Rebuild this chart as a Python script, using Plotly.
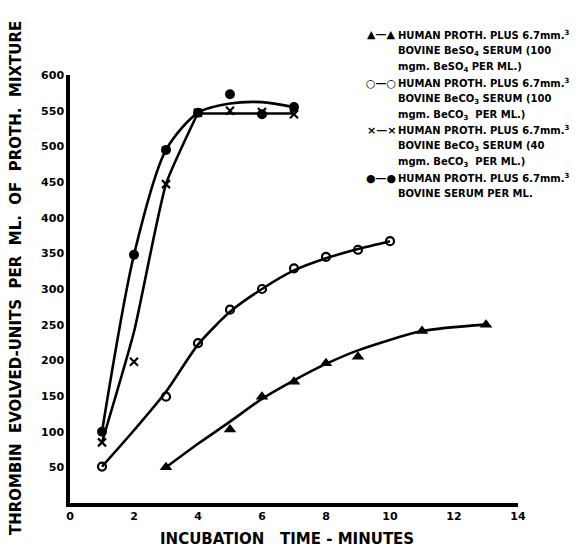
import plotly.graph_objects as go

# ---- data ----
# Triangles: human proth + 6.7 mm3 bovine BeSO4 serum (100 mgm BeSO4 per ml)
tri_x = [3, 5, 6, 7, 8, 9, 11, 13]
tri_y = [50, 103, 149, 170, 196, 205, 241, 250]
tri_curve_x = [3, 4, 5, 6, 7, 8, 9, 11, 13]
tri_curve_y = [50, 83, 114, 146, 172, 195, 214, 241, 250]

# Open circles: bovine BeCO3 serum (100 mgm BeCO3 per ml)
oc_x = [1, 3, 4, 5, 6, 7, 8, 9, 10]
oc_y = [51, 149, 224, 271, 300, 329, 345, 355, 367]
oc_curve_x = [1, 2, 3, 4, 5, 6, 7, 8, 9, 10]
oc_curve_y = [51, 102, 156, 222, 268, 300, 326, 343, 356, 367]

# X marks: bovine BeCO3 serum (40 mgm BeCO3 per ml)
xx_x = [1, 2, 3, 4, 5, 6, 7]
xx_y = [85, 198, 447, 547, 550, 548, 545]
xx_curve_x = [1, 2, 3, 4]
xx_curve_y = [85, 240, 447, 547]
xx_flat_x = [4, 7]
xx_flat_y = [546, 546]

# Filled circles: bovine serum per ml
fc_x = [1, 2, 3, 4, 5, 6, 7]
fc_y = [100, 348, 495, 547, 573, 545, 555]
fc_curve_x = [1, 2, 3, 4, 5, 6, 7]
fc_curve_y = [100, 348, 495, 547, 560, 562, 555]

x_ticks = [0, 2, 4, 6, 8, 10, 12, 14]
y_ticks = [50, 100, 150, 200, 250, 300, 350, 400, 450, 500, 550, 600]

legend_symbols = ["\u25b2\u2014\u25b2", "\u25cb\u2014\u25cb", "\u00d7\u2014\u00d7", "\u25cf\u2014\u25cf"]
legend_lines = [
    ["HUMAN PROTH. PLUS 6.7mm.<sup>3</sup>", "BOVINE BeSO<sub>4</sub> SERUM (100", "mgm. BeSO<sub>4</sub> PER ML.)"],
    ["HUMAN PROTH. PLUS 6.7mm.<sup>3</sup>", "BOVINE BeCO<sub>3</sub> SERUM (100", "mgm. BeCO<sub>3</sub>  PER ML.)"],
    ["HUMAN PROTH. PLUS 6.7mm.<sup>3</sup>", "BOVINE BeCO<sub>3</sub> SERUM (40", "mgm. BeCO<sub>3</sub>  PER ML.)"],
    ["HUMAN PROTH. PLUS 6.7mm.<sup>3</sup>", "BOVINE SERUM PER ML."],
]

NB = "\u00a0"
y_title = (NB * 2).join(["THROMBIN", "EVOLVED-UNITS", "PER", "ML.", "OF", "PROTH.", "MIXTURE"])
x_title = "INCUBATION" + NB * 3 + "TIME" + NB + "-" + NB + "MINUTES"

FONT = "DejaVu Sans"
LW = 2.6

fig = go.Figure()

def curve(x, y, shape="spline", sm=0.7):
    fig.add_trace(go.Scatter(x=x, y=y, mode="lines",
                             line=dict(color="black", width=LW, shape=shape, smoothing=sm),
                             hoverinfo="skip", showlegend=False))

curve(tri_curve_x, tri_curve_y)
curve(oc_curve_x, oc_curve_y)
curve(xx_curve_x, xx_curve_y, sm=0.5)
curve(xx_flat_x, xx_flat_y, shape="linear")
curve(fc_curve_x, fc_curve_y, sm=0.8)

fig.add_trace(go.Scatter(x=tri_x, y=tri_y, mode="markers", showlegend=False,
                         marker=dict(symbol="triangle-up", size=11, color="black")))
fig.add_trace(go.Scatter(x=oc_x, y=oc_y, mode="markers", showlegend=False,
                         marker=dict(symbol="circle-open", size=8, color="black",
                                     line=dict(width=2.2, color="black"))))
fig.add_trace(go.Scatter(x=xx_x, y=xx_y, mode="markers", showlegend=False,
                         marker=dict(symbol="x-thin", size=8, color="black",
                                     line=dict(width=2.2, color="black"))))
fig.add_trace(go.Scatter(x=fc_x, y=fc_y, mode="markers", showlegend=False,
                         marker=dict(symbol="circle", size=10, color="black")))

OFF = 8  # page body margin
W, H = 578 - OFF, 549 - OFF
L, R, T, B = 70 - OFF, 60, 75 - OFF, 46
pw, ph = W - L - R, H - T - B

def px(xp):
    return (xp - OFF - L) / pw

def py(yp):
    return (H - B - (yp - OFF)) / ph

annotations = []
row_y = [35, 51, 67, 83, 99, 115, 130, 146, 162, 178, 193]
k = 0
for i, lines in enumerate(legend_lines):
    annotations.append(dict(x=px(381), y=py(row_y[k]), xref="paper", yref="paper",
                            text="<b>" + legend_symbols[i] + "</b>", showarrow=False,
                            xanchor="center", yanchor="middle",
                            font=dict(family=FONT, size=11, color="black")))
    for ln in lines:
        annotations.append(dict(x=px(396), y=py(row_y[k]), xref="paper", yref="paper",
                                text="<b>" + ln + "</b>", showarrow=False, xanchor="left", yanchor="middle",
                                font=dict(family=FONT, size=10, color="black")))
        k += 1

annotations.append(dict(x=px(16), y=py(278), xref="paper", yref="paper",
                        text="<b>" + y_title + "</b>",
                        textangle=-90, showarrow=False, xanchor="center", yanchor="middle",
                        font=dict(family=FONT, size=15, color="black")))
annotations.append(dict(x=px(287), y=py(539), xref="paper", yref="paper",
                        text="<b>" + x_title + "</b>",
                        showarrow=False, xanchor="center", yanchor="middle",
                        font=dict(family=FONT, size=15, color="black")))

fig.update_layout(
    width=W, height=H,
    margin=dict(l=L, r=R, t=T, b=B),
    paper_bgcolor="white", plot_bgcolor="white",
    annotations=annotations,
    font=dict(family=FONT, color="black"),
    xaxis=dict(range=[0, 14], tickvals=x_ticks, ticktext=["<b>%d</b>" % v for v in x_ticks],
               showgrid=False, zeroline=False, showline=True, linecolor="black", linewidth=3.5,
               ticks="", tickfont=dict(family=FONT, size=11, color="black")),
    yaxis=dict(range=[0, 600], tickvals=y_ticks, ticktext=["<b>%d</b>" % v for v in y_ticks],
               showgrid=False, zeroline=False, showline=True, linecolor="black", linewidth=3.5,
               ticks="", tickfont=dict(family=FONT, size=11, color="black")),
)

fig.write_html("out.html")
